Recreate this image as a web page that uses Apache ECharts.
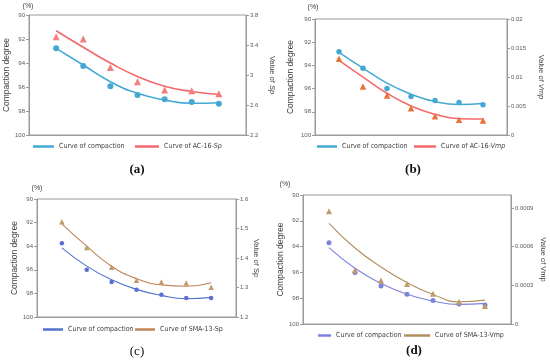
<!DOCTYPE html>
<html><head><meta charset="utf-8">
<script src="https://cdn.jsdelivr.net/npm/echarts@6/dist/echarts.min.js"></script>
<style>html,body{margin:0;padding:0;background:#fff}#c{width:550px;height:364px}</style>
</head><body><div id="c"></div>
<script>
// Test levels (x positions)
const levels = [1, 2, 3, 4, 5, 6, 7];
// (a) AC-16 Sp
const compA    = [92.78, 94.25, 95.94, 96.67, 97.03, 97.25, 97.39];
const compFitA = [92.78, 94.17, 95.56, 96.53, 97.08, 97.36, 97.31];
const spA      = [3.51, 3.48, 3.10, 2.91, 2.80, 2.79, 2.75];
const spFitA   = [3.59, 3.37, 3.16, 2.98, 2.85, 2.78, 2.74];
// (b) AC-16 Vmp
const compB    = [92.82, 94.24, 95.99, 96.69, 97.03, 97.20, 97.39];
const compFitB = [92.88, 94.24, 95.53, 96.48, 97.12, 97.38, 97.29];
const vmpB     = [0.01314, 0.00836, 0.0068, 0.00461, 0.00323, 0.00265, 0.00248];
const vmpFitB  = [0.01285, 0.00997, 0.0072, 0.00501, 0.00357, 0.00282, 0.00277];
// (c) SMA-13 Sp
const compC    = [93.75, 96.0, 97.04, 97.69, 98.11, 98.39, 98.39];
const compFitC = [94.14, 95.69, 96.85, 97.66, 98.17, 98.45, 98.34];
const spC      = [1.523, 1.436, 1.369, 1.325, 1.319, 1.315, 1.301];
const spFitC   = [1.516, 1.44, 1.372, 1.33, 1.309, 1.304, 1.316];
// (d) SMA-13 Vmp
const compD    = [93.70, 96.0, 97.05, 97.7, 98.17, 98.45, 98.53];
const compFitD = [94.08, 95.68, 96.85, 97.70, 98.22, 98.48, 98.40];
const vmpD     = [0.000874, 0.000416, 0.000337, 0.000311, 0.000234, 0.000172, 0.000139];
const vmpFitD  = [0.000781, 0.000589, 0.000442, 0.000321, 0.000229, 0.000172, 0.000185];
// tick settings
const leftTicks = {min: 90, max: 100, interval: 2};

const labelNames = {
  fa1: 'Curve of compaction', fa2: 'Curve of AC-16-{i|Sp}',
  fb1: 'Curve of compaction', fb2: 'Curve of AC-16-{i|Vmp}',
  fc1: 'Curve of compaction', fc2: 'Curve of SMA-13-Sp',
  fd1: 'Curve of compaction', fd2: 'Curve of SMA-13-Vmp'
};

const pairs = (ys) => levels.map((x, i) => [x, ys[i]]);
const FONT = 'Liberation Sans Narrow, DejaVu Sans Condensed, Liberation Sans, sans-serif';
const AXC = '#9a9a9a';
const LBL = {fontSize: 6, color: '#595959', fontFamily: 'Liberation Sans, sans-serif'};

const grids = [
  {left: 29, top: 15, right: 304, bottom: 229},
  {left: 315, top: 19, right: 43, bottom: 229},
  {left: 37, top: 199, right: 314, bottom: 47},
  {left: 303, top: 195, right: 39, bottom: 40}
].map(g => Object.assign({show: true, borderColor: AXC, borderWidth: 1, containLabel: false}, g));

const xAxes = [0,1,2,3].map(i => ({
  type: 'value', gridIndex: i, min: 0, max: 8,
  axisLine: {show: true, lineStyle: {color: AXC}}, axisTick: {show: false},
  axisLabel: {show: false}, splitLine: {show: false}
}));

function leftAxis(g, gap) {
  return {type: 'value', gridIndex: g, position: 'left', inverse: true,
    min: leftTicks.min, max: leftTicks.max, interval: leftTicks.interval,
    name: 'Compaction degree', nameLocation: 'middle', nameGap: gap, nameRotate: 90,
    nameTextStyle: {fontSize: 8.5, color: '#404040', fontFamily: 'Liberation Sans, sans-serif'},
    axisLine: {show: true, lineStyle: {color: AXC}},
    axisTick: {show: true, length: 3, lineStyle: {color: AXC}},
    axisLabel: Object.assign({margin: 4}, LBL), splitLine: {show: false}};
}
function rightAxis(g, min, max, interval, name, gap, hideMax) {
  return {type: 'value', gridIndex: g, position: 'right', min, max, interval,
    name, nameLocation: 'middle', nameGap: gap, nameRotate: -90,
    nameTextStyle: {fontSize: 7.5, color: '#404040', fontFamily: 'Liberation Sans, sans-serif',
      rich: {i: {fontSize: 7.5, fontStyle: 'italic', color: '#404040', fontFamily: 'Liberation Sans, sans-serif'}}},
    axisLine: {show: true, lineStyle: {color: AXC}},
    axisTick: {show: true, length: 3, lineStyle: {color: AXC}},
    axisLabel: Object.assign({margin: 4, showMaxLabel: !hideMax}, LBL), splitLine: {show: false}};
}
const yAxes = [
  leftAxis(0, 16), rightAxis(0, 2.2, 3.8, 0.4, 'Value of {i|Sp}', 22),
  leftAxis(1, 20), rightAxis(1, 0, 0.02, 0.005, 'Value of {i|Vmp}', 30),
  leftAxis(2, 17), rightAxis(2, 1.2, 1.6, 0.1, 'Value of Sp', 15),
  leftAxis(3, 16), rightAxis(3, 0, 0.001, 0.0003, 'Value of Vmp', 28, true)
];

function fit(name, g, y, data, color, w) {
  return {name, type: 'line', xAxisIndex: g, yAxisIndex: y, data: pairs(data), smooth: 0.5,
    showSymbol: false, symbol: 'none', lineStyle: {color, width: w}, itemStyle: {color}, z: 2, silent: true};
}
function pts(g, y, data, symbol, color, size) {
  return {type: 'scatter', xAxisIndex: g, yAxisIndex: y, data: pairs(data), symbol, symbolSize: size,
    itemStyle: {color, opacity: 1}, z: 3, silent: true};
}
const CYAN = '#43a9d3', RED = '#f4686b', SALMON = '#f27e7e', ORANGE = '#ee7039';
const BLUE = '#4f73c9', BLUEPT = '#5b6ed2', BROWN = '#c08458', TAN = '#bf9a6c';
const PURP = '#7d82dc', OLIVE = '#b18f5c';

const series = [
  fit('fa1', 0, 0, compFitA, CYAN, 1.6), fit('fa2', 0, 1, spFitA, RED, 1.6),
  pts(0, 0, compA, 'circle', CYAN, 6), pts(0, 1, spA, 'triangle', SALMON, 7),
  fit('fb1', 1, 2, compFitB, CYAN, 1.5), fit('fb2', 1, 3, vmpFitB, RED, 1.5),
  pts(1, 2, compB, 'circle', CYAN, 5.5), pts(1, 3, vmpB, 'triangle', ORANGE, 6.5),
  fit('fc1', 2, 4, compFitC, BLUE, 1.1), fit('fc2', 2, 5, spFitC, BROWN, 1.1),
  pts(2, 4, compC, 'circle', BLUEPT, 4.5), pts(2, 5, spC, 'triangle', TAN, 5.5),
  fit('fd1', 3, 6, compFitD, PURP, 1.1), fit('fd2', 3, 7, vmpFitD, OLIVE, 1.1),
  pts(3, 6, compD, 'circle', PURP, 5), pts(3, 7, vmpD, 'triangle', TAN, 6)
];

function leg(name, left, cy, w) {
  return {data: [name], left, top: cy - 4, icon: 'rect', itemWidth: w, itemHeight: 2.5,
    selectedMode: false, padding: 0,
    formatter: n => labelNames[n],
    textStyle: {fontSize: 7, color: '#404040', fontFamily: FONT,
      rich: {i: {fontSize: 7, fontStyle: 'italic', color: '#404040', fontFamily: FONT}}}};
}
const legends = [
  leg('fa1', 33, 147, 21), leg('fa2', 135, 147, 24),
  leg('fb1', 317, 147, 20), leg('fb2', 414, 147, 22),
  leg('fc1', 43, 330, 20), leg('fc2', 135, 330, 20),
  leg('fd1', 318, 336, 13), leg('fd2', 404, 336, 26)
];

const graphics = [
  {type: 'text', x: 28, y: 6, style: {text: '(%)', fontSize: 7, fill: '#404040', align: 'center', verticalAlign: 'middle', fontFamily: 'Liberation Sans, sans-serif'}},
  {type: 'text', x: 313, y: 7, style: {text: '(%)', fontSize: 7, fill: '#404040', align: 'center', verticalAlign: 'middle', fontFamily: 'Liberation Sans, sans-serif'}},
  {type: 'text', x: 37, y: 188, style: {text: '(%)', fontSize: 7, fill: '#404040', align: 'center', verticalAlign: 'middle', fontFamily: 'Liberation Sans, sans-serif'}},
  {type: 'text', x: 285, y: 184, style: {text: '(%)', fontSize: 7, fill: '#404040', align: 'center', verticalAlign: 'middle', fontFamily: 'Liberation Sans, sans-serif'}},
  {type: 'text', x: 137, y: 170, style: {text: '(a)', fontSize: 13, fontWeight: 'bold', fill: '#111', align: 'center', verticalAlign: 'middle', fontFamily: 'Liberation Serif, serif'}},
  {type: 'text', x: 413, y: 170, style: {text: '(b)', fontSize: 13, fontWeight: 'bold', fill: '#111', align: 'center', verticalAlign: 'middle', fontFamily: 'Liberation Serif, serif'}},
  {type: 'text', x: 137, y: 352, style: {text: '(c)', fontSize: 13, fontWeight: 'normal', fill: '#111', align: 'center', verticalAlign: 'middle', fontFamily: 'Liberation Serif, serif'}},
  {type: 'text', x: 414, y: 351, style: {text: '(d)', fontSize: 13, fontWeight: 'bold', fill: '#111', align: 'center', verticalAlign: 'middle', fontFamily: 'Liberation Serif, serif'}}
];

const chart = echarts.init(document.getElementById('c'), null, {renderer: 'canvas'});
chart.setOption({
  animation: false, backgroundColor: '#fff',
  grid: grids, xAxis: xAxes, yAxis: yAxes, series, legend: legends, graphic: graphics
});
</script></body></html>
